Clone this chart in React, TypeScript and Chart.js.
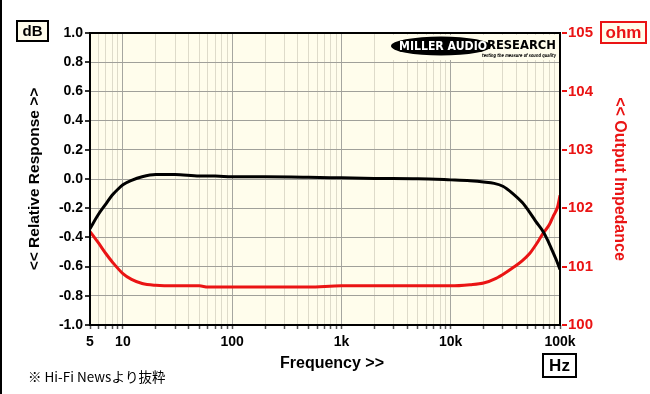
import { useEffect, useRef } from "react";
import { Chart, registerables } from "chart.js";
Chart.register(...registerables);

// ---- data ----
const freqResponse = [5, 6, 7, 8, 9, 10, 12, 15, 20, 30, 50, 70, 100, 200, 500, 1000, 2000, 5000, 10000, 15000, 20000, 25000, 30000, 37000, 45000, 53000, 60000, 70000, 76000, 85000, 92000, 100000];
const responseDb = [-0.34, -0.24, -0.17, -0.11, -0.07, -0.04, -0.01, 0.015, 0.03, 0.03, 0.02, 0.02, 0.015, 0.015, 0.012, 0.008, 0.004, 0.002, -0.006, -0.012, -0.02, -0.03, -0.05, -0.1, -0.16, -0.23, -0.29, -0.36, -0.41, -0.49, -0.55, -0.62];

const freqImpedance = [5, 6, 7, 8, 10, 12, 15, 20, 30, 50, 60, 70, 100, 500, 1000, 5000, 10000, 15000, 20000, 26000, 32000, 37000, 45000, 53000, 60000, 70000, 80000, 87000, 95000, 100000];
const impedanceOhm = [101.6, 101.4, 101.22, 101.08, 100.88, 100.78, 100.71, 100.68, 100.67, 100.67, 100.65, 100.65, 100.65, 100.65, 100.67, 100.67, 100.67, 100.69, 100.72, 100.8, 100.9, 100.98, 101.1, 101.23, 101.37, 101.57, 101.72, 101.87, 102.02, 102.22];

const xTickValues = [5, 6, 7, 8, 9, 10, 20, 30, 40, 50, 60, 70, 80, 90, 100, 200, 300, 400, 500, 600, 700, 800, 900, 1000, 2000, 3000, 4000, 5000, 6000, 7000, 8000, 9000, 10000, 20000, 30000, 40000, 50000, 60000, 70000, 80000, 90000, 100000];
const xTickLabels: Record<number, string> = { 5: "5", 10: "10", 100: "100", 1000: "1k", 10000: "10k", 100000: "100k" };

const FONT = '"Liberation Sans", Arial, sans-serif';
const BG = "#fffdec";
const RED = "#ea1414";

function drawStretched(ctx: CanvasRenderingContext2D, text: string, x: number, y: number, width: number, font: string, color: string) {
  ctx.save();
  ctx.font = font;
  ctx.fillStyle = color;
  ctx.textBaseline = "middle";
  ctx.textAlign = "left";
  const w = ctx.measureText(text).width;
  ctx.translate(x, y);
  ctx.scale(width / w, 1);
  ctx.fillText(text, 0, 0);
  ctx.restore();
}

function box(ctx: CanvasRenderingContext2D, x: number, y: number, w: number, h: number, fill: string, stroke: string, text: string, font: string, color: string) {
  ctx.save();
  ctx.fillStyle = fill;
  ctx.fillRect(x, y, w, h);
  ctx.lineWidth = 2;
  ctx.strokeStyle = stroke;
  ctx.strokeRect(x, y, w, h);
  ctx.font = font;
  ctx.fillStyle = color;
  ctx.textAlign = "center";
  ctx.textBaseline = "middle";
  ctx.fillText(text, x + w / 2, y + h / 2 + 1);
  ctx.restore();
}

const decor = {
  id: "decor",
  beforeDraw(chart: any) {
    const { ctx, chartArea: a } = chart;
    ctx.save();
    ctx.fillStyle = "#fff";
    ctx.fillRect(0, 0, chart.width, chart.height);
    ctx.fillStyle = "#000";
    ctx.fillRect(0, 0, 2, chart.height);
    ctx.fillStyle = BG;
    ctx.fillRect(a.left, a.top, a.right - a.left, a.bottom - a.top);
    ctx.restore();
  },
  beforeDatasetsDraw(chart: any) {
    const ctx = chart.ctx;
    ctx.save();
    ctx.fillStyle = BG;
    ctx.fillRect(389, 35, 168, 25);
    ctx.fillStyle = "#000";
    ctx.beginPath();
    ctx.ellipse(441, 46, 50, 9.5, 0, 0, Math.PI * 2);
    ctx.fill();
    ctx.restore();
    drawStretched(ctx, "MILLER AUDIO", 399, 46.5, 88, `bold 12px "DejaVu Sans"`, "#fff");
    drawStretched(ctx, "RESEARCH", 487, 46, 69, `bold 12px "DejaVu Sans"`, "#000");
    drawStretched(ctx, "testing the measure of sound quality", 482, 55.5, 74, `italic bold 5px "DejaVu Sans"`, "#000");
  },
  afterDraw(chart: any) {
    const { ctx, chartArea: a } = chart;
    ctx.save();
    ctx.lineWidth = 2;
    ctx.strokeStyle = "#000";
    ctx.strokeRect(a.left, a.top, a.right - a.left, a.bottom - a.top);
    // y-axis tick dashes
    const yl = chart.scales.y;
    ctx.strokeStyle = "#333";
    ctx.beginPath();
    yl.ticks.forEach((t: any) => {
      const p = Math.round(yl.getPixelForValue(t.value));
      ctx.moveTo(a.left - 5, p);
      ctx.lineTo(a.left - 1, p);
    });
    ctx.stroke();
    const yr = chart.scales.y2;
    ctx.strokeStyle = RED;
    ctx.beginPath();
    yr.ticks.forEach((t: any) => {
      const p = Math.round(yr.getPixelForValue(t.value));
      ctx.moveTo(a.right + 2, p);
      ctx.lineTo(a.right + 7, p);
    });
    ctx.stroke();
    ctx.restore();
    box(ctx, 17, 21, 31, 20, BG, "#000", "dB", `bold 15px ${FONT}`, "#000");
    box(ctx, 601, 22, 45, 21, BG, RED, "ohm", `bold 17px ${FONT}`, RED);
    box(ctx, 543, 354, 33, 23, "#fff", "#000", "Hz", `bold 17px ${FONT}`, "#000");
    ctx.save();
    ctx.font = `bold 16px ${FONT}`;
    ctx.fillStyle = "#000";
    ctx.textAlign = "center";
    ctx.textBaseline = "middle";
    ctx.fillText("Frequency >>", 332, 364);
    ctx.font = `13.5px "Noto Sans CJK JP", sans-serif`;
    ctx.textAlign = "left";
    ctx.fillText("※ Hi-Fi Newsより抜粋", 28, 377);
    ctx.restore();
  },
};

export default function App() {
  const ref = useRef<HTMLCanvasElement | null>(null);
  useEffect(() => {
    if (!ref.current) return;
    const chart = new Chart(ref.current, {
      type: "line",
      data: {
        datasets: [
          {
            label: "Relative Response",
            data: freqResponse.map((f, i) => ({ x: f, y: responseDb[i] })),
            borderColor: "#000",
            borderWidth: 3,
            pointRadius: 0,
            cubicInterpolationMode: "monotone",
            yAxisID: "y",
          },
          {
            label: "Output Impedance",
            data: freqImpedance.map((f, i) => ({ x: f, y: impedanceOhm[i] })),
            borderColor: RED,
            borderWidth: 3,
            pointRadius: 0,
            cubicInterpolationMode: "monotone",
            yAxisID: "y2",
          },
        ],
      },
      options: {
        animation: false,
        responsive: false,
        devicePixelRatio: 1,
        layout: { padding: { top: 33, left: 0, right: 0, bottom: 0 } },
        plugins: { legend: { display: false }, tooltip: { enabled: false } },
        scales: {
          x: {
            type: "logarithmic",
            min: 5,
            max: 100000,
            position: "bottom",
            afterBuildTicks: (s: any) => {
              s.ticks = xTickValues.map((v) => ({ value: v }));
            },
            afterFit: (s: any) => {
              s.height = 69;
            },
            ticks: {
              autoSkip: false,
              maxRotation: 0,
              padding: 5,
              color: "#000",
              font: { family: FONT, size: 14, weight: "bold" },
              callback: (v: any) => xTickLabels[Number(v)] ?? "",
            },
            grid: {
              color: (c: any) => {
                const v = c.tick ? c.tick.value : 0;
                return Math.abs(Math.log10(v) - Math.round(Math.log10(v))) < 1e-6 ? "#a6a6a0" : "#dedbca";
              },
              tickColor: "#555",
              tickLength: 4,
              tickWidth: 1.5,
              lineWidth: 1,
            },
            border: { display: false },
          },
          y: {
            type: "linear",
            min: -1,
            max: 1,
            position: "left",
            afterFit: (s: any) => {
              s.width = 90;
            },
            ticks: {
              stepSize: 0.2,
              padding: 7,
              color: "#000",
              font: { family: FONT, size: 14, weight: "bold" },
              callback: (v: any) => Number(v).toFixed(1),
            },
            grid: { color: "#a0a09a", drawTicks: false, lineWidth: 1 },
            border: { display: false },
            title: {
              display: true,
              text: "<< Relative Response >>",
              color: "#000",
              font: { family: FONT, size: 15.5, weight: "bold" },
              padding: { top: 25, bottom: 0 },
            },
          },
          y2: {
            type: "linear",
            min: 100,
            max: 105,
            position: "right",
            afterFit: (s: any) => {
              s.width = 90;
            },
            ticks: {
              stepSize: 1,
              padding: 8,
              color: RED,
              font: { family: FONT, size: 15, weight: "bold" },
              callback: (v: any) => String(Math.round(Number(v))),
            },
            grid: { drawOnChartArea: false, drawTicks: false },
            border: { display: false },
            title: {
              display: true,
              text: "<< Output Impedance",
              color: RED,
              font: { family: FONT, size: 16, weight: "bold" },
              padding: { top: 21, bottom: 0 },
            },
          },
        },
      },
      plugins: [decor],
    } as any);
    return () => chart.destroy();
  }, []);
  return (
    <div style={{ position: "fixed", left: 0, top: 0, width: 650, height: 394, background: "#fff" }}>
      <canvas ref={ref} width={650} height={394} style={{ display: "block" }} />
    </div>
  );
}
